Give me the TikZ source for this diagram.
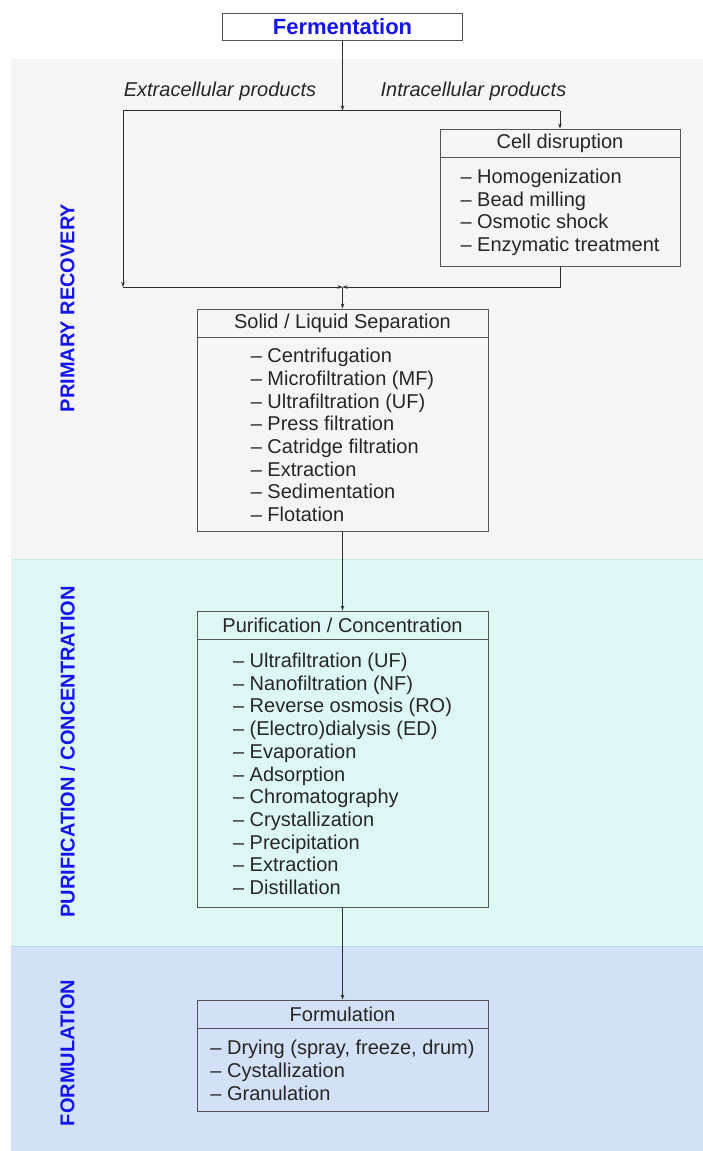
\documentclass[tikz,border=0pt]{standalone}
\usepackage{fontspec}
\setmainfont{Liberation Sans}
\usetikzlibrary{arrows.meta,positioning}

\definecolor{stageblue}{RGB}{20,20,235}
\definecolor{recoverybg}{RGB}{245,245,245}
\definecolor{purifybg}{RGB}{221,248,244}
\definecolor{purifyedge}{RGB}{200,238,232}
\definecolor{formbg}{RGB}{211,225,248}
\definecolor{formedge}{RGB}{182,216,238}
\definecolor{boxline}{RGB}{85,85,85}
\definecolor{connline}{RGB}{45,45,45}

\begin{document}
\begin{tikzpicture}[x=1pt,y=-1pt]

        \tikzset{
            stage/.style={rotate=90, text=stageblue, font=\fontsize{20}{24}\selectfont\bfseries},
            branch/.style={font=\fontsize{20}{24}\selectfont\itshape, text=black!85},
            headbox/.style={draw=boxline, line width=0.9pt, minimum width=291pt,
                minimum height=28pt, inner sep=0pt, font=\fontsize{20}{24}\selectfont, text=black!85},
            listbox/.style={draw=boxline, line width=0.9pt, minimum width=291pt, inner sep=0pt,
                align=left, font=\fontsize{20}{22.7}\selectfont, text=black!85},
            conn/.style={-{Stealth[length=5pt,width=3.5pt]}, draw=connline, line width=0.7pt},
            wire/.style={draw=connline, line width=0.7pt}
        }

        \useasboundingbox (0,0) rectangle (703,1151);

        % stage bands
        \fill[recoverybg] (11,59) rectangle (703,559);
        \fill[purifybg] (11,559) rectangle (703,946);
        \fill[formbg] (11,946) rectangle (703,1151);
        \draw[purifyedge, line width=1pt] (11,559.5) -- (703,559.5);
        \draw[formedge, line width=1pt] (11,946.5) -- (703,946.5);

        \node[stage] (recovery) at (67.5,308) {PRIMARY RECOVERY};
        \node[stage] (purify) at (67.5,752) {PURIFICATION / CONCENTRATION};
        \node[stage] (formul) at (67.5,1053) {FORMULATION};

        % boxes
        \node[headbox, minimum width=240pt, minimum height=27pt, text=stageblue,
            font=\fontsize{22}{26}\selectfont\bfseries] (ferm) at (342.5,26.5) {Fermentation};

        \node[branch] (extra) at (220,91) {Extracellular products};
        \node[branch] (intra) at (473.5,91) {Intracellular products};

        \node[headbox, minimum width=240pt] (cellhead) at (560,143) {Cell disruption};
        \node[listbox, minimum width=240pt, minimum height=109pt, below=0pt of cellhead] (cellbody)
            {– Homogenization\\– Bead milling\\– Osmotic shock\\– Enzymatic treatment};

        \node[headbox] (solidhead) at (342.5,323) {Solid / Liquid Separation};
        \node[listbox, minimum height=194pt, below=0pt of solidhead] (solidbody)
            {– Centrifugation\\– Microfiltration (MF)\\– Ultrafiltration (UF)\\– Press filtration\\
             – Catridge filtration\\– Extraction\\– Sedimentation\\– Flotation};

        \node[headbox] (purihead) at (342.5,625) {Purification / Concentration};
        \node[listbox, minimum height=268pt, below=0pt of purihead] (puribody)
            {– Ultrafiltration (UF)\\– Nanofiltration (NF)\\– Reverse osmosis (RO)\\
             – (Electro)dialysis (ED)\\– Evaporation\\– Adsorption\\– Chromatography\\
             – Crystallization\\– Precipitation\\– Extraction\\– Distillation};

        \node[headbox] (formhead) at (342.5,1014) {Formulation};
        \node[listbox, minimum height=83pt, below=0pt of formhead] (formbody)
            {– Drying (spray, freeze, drum)\\– Cystallization\\– Granulation};

        % connectors
        \coordinate (split) at (342.5,110.5);
        \coordinate (splitL) at (123,110.5);
        \coordinate (splitR) at (cellhead.north |- split);
        \coordinate (joinL) at (123,287);
        \coordinate (join) at (342.5,287);

        \draw[conn] (ferm.south) -- (split);
        \draw[wire] (splitL) -- (splitR);
        \draw[conn] (splitR) -- (cellhead.north);
        \draw[conn] (splitL) -- (joinL);
        \draw[conn] (joinL) -- (join);
        \draw[conn] (cellbody.south) |- (join);
        \draw[conn] (join) -- (solidhead.north);

        \draw[conn] (solidbody.south) -- (purihead.north);
        \draw[conn] (puribody.south) -- (formhead.north);

    \end{tikzpicture}
\end{document}
